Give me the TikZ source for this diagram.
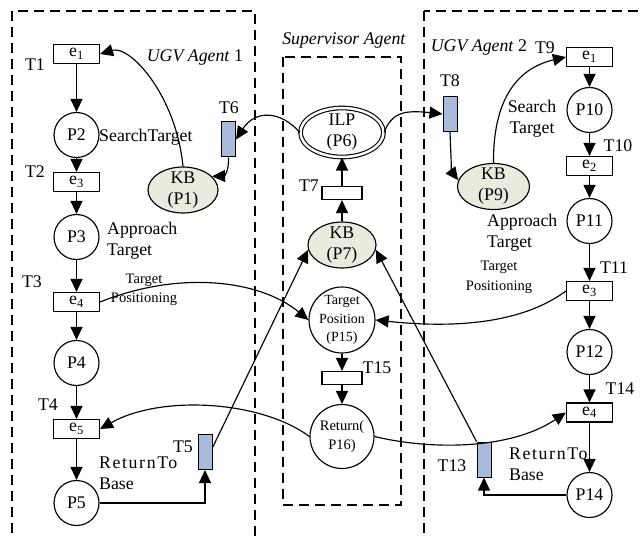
\documentclass[tikz,border=0pt]{standalone}
\usepackage{fontspec}
\setmainfont{Liberation Serif}
\usetikzlibrary{arrows.meta,shapes.geometric}
\definecolor{kbfill}{HTML}{E8ECDE}
\definecolor{barfill}{HTML}{A8BBDB}
\newcommand{\esub}[1]{e\textsubscript{#1}}
\newcommand{\spaced}[1]{{\addfontfeature{LetterSpace=9}#1}}

\tikzset{
  base/.style={font=\fontsize{17.8}{21}\selectfont},
  pplace/.style={circle, draw, line width=1.15pt, minimum size=45pt, inner sep=0pt, base},
  kbplace/.style={ellipse, draw, fill=kbfill, line width=1.15pt, minimum width=70pt,
    minimum height=46pt, inner xsep=0pt, inner ysep=-3pt, align=center, base},
  etrans/.style={rectangle, draw, line width=1.15pt, minimum width=46pt, minimum height=19pt,
    inner sep=0pt, base},
  strans/.style={rectangle, draw, line width=1.15pt, minimum width=40pt, minimum height=13pt,
    inner sep=0pt},
  bartrans/.style={rectangle, draw, fill=barfill, line width=1pt, minimum width=14pt,
    minimum height=35pt, inner sep=0pt},
  lbl/.style={base, inner sep=0pt},
  small/.style={font=\fontsize{14.5}{19.5}\selectfont, inner sep=0pt, align=center},
  flow/.style={line width=1.15pt, -{Triangle[length=13pt,width=12pt]}},
  zone/.style={dash pattern=on 10pt off 6pt, line width=1.3pt},
}

\begin{document}
\begin{tikzpicture}[x=1pt,y=-1pt]
\useasboundingbox (0,0) rectangle (644,537);

% agent frames
\begin{scope}
  \clip (0,0) rectangle (644,537);
  \draw[zone] (12,11) rectangle (255,560);
  \draw[zone] (424,11) rectangle (670,560);
  \draw[zone] (283,57) rectangle (401,505);
\end{scope}

% frame titles
\node[lbl] (title1) at (195,58) {\textit{UGV Agent} 1};
\node[lbl] (titleS) at (344,41) {\textit{Supervisor Agent}};
\node[lbl] (title2) at (479,48) {\textit{UGV Agent} 2};

% ---------------- UGV agent 1 ----------------
\node[etrans] (e1L) at (76.5,54) {\esub{1}};
\node[pplace] (P2) at (76.5,135) {P2};
\node[etrans] (e3L) at (76.5,182) {\esub{3}};
\node[pplace] (P3) at (76.5,237) {P3};
\node[etrans] (e4L) at (76.5,302) {\esub{4}};
\node[pplace] (P4) at (76.5,363) {P4};
\node[etrans] (e5L) at (76.5,429) {\esub{5}};
\node[pplace] (P5) at (76.5,503) {P5};

\node[lbl] (lT1) at (35,65) {T1};
\node[lbl] (lT2) at (35,172) {T2};
\node[lbl] (lT3) at (32,282) {T3};
\node[lbl] (lT4) at (48,405) {T4};

\node[lbl, anchor=west] (sL) at (99,137) {SearchTarget};
\node[lbl, anchor=west, align=left] (aL) at (107,240.5) {Approach\\Target};
\node[small] (tpL) at (144,290) {Target\\Positioning};
\node[lbl, anchor=west, align=left] (rL) at (99,473) {\spaced{ReturnTo}\\Base};

\node[kbplace] (P1) at (183,190) {KB\\(P1)};
\node[bartrans] (T6) at (228.5,139.5) {};
\node[lbl] (lT6) at (229,108) {T6};
\node[bartrans] (T5) at (205,452) {};
\node[lbl] (lT5) at (183,447) {T5};

% ---------------- supervisor agent ----------------
\node[ellipse, draw, double, double distance=2.5pt, line width=1.1pt, minimum width=83pt,
  minimum height=49pt, inner xsep=0pt, inner ysep=-2pt, align=center, base]
  (ILP) at (342,132.5) {ILP\\(P6)};
\node[strans] (T7) at (342,193) {};
\node[lbl] (lT7) at (309,186) {T7};
\node[kbplace, minimum width=68pt] (P7) at (342,245) {KB\\(P7)};
\node[circle, draw, line width=1.15pt, minimum size=66pt, inner sep=-1pt, align=center,
  font=\fontsize{14}{18.5}\selectfont] (P15) at (342,320) {Target\\Position\\(P15)};
\node[strans] (T15) at (342,378) {};
\node[lbl] (lT15) at (377,368) {T15};
\node[circle, draw, line width=1.15pt, minimum size=64pt, inner sep=0pt, align=center,
  font=\fontsize{14.5}{19}\selectfont] (P16) at (342,436.5) {Return(\\P16)};

% ---------------- UGV agent 2 ----------------
\node[etrans] (e1R) at (589.5,57) {\esub{1}};
\node[pplace] (P10) at (589.5,110) {P10};
\node[etrans] (e2R) at (589.5,166) {\esub{2}};
\node[pplace] (P11) at (589.5,221) {P11};
\node[etrans] (e3R) at (589.5,291) {\esub{3}};
\node[pplace] (P12) at (589.5,352) {P12};
\node[etrans] (e4R) at (589.5,412.5) {\esub{4}};
\node[pplace] (P14) at (589.5,495) {P14};

\node[lbl] (lT9) at (545,48) {T9};
\node[lbl] (lT10) at (618,146) {T10};
\node[lbl] (lT11) at (614,268) {T11};
\node[lbl] (lT14) at (620,389) {T14};

\node[lbl, align=center] (sR) at (532,119) {Search\\Target};
\node[lbl, anchor=west, align=left] (aR) at (487,232.5) {Approach\\Target};
\node[small] (tpR) at (499,277.5) {Target\\Positioning};
\node[lbl, anchor=west, align=left] (rR) at (509,464) {\spaced{ReturnTo}\\Base};

\node[kbplace, minimum width=72pt] (P9) at (493.5,186.5) {KB\\(P9)};
\node[bartrans] (T8) at (450,114) {};
\node[lbl] (lT8) at (450,81) {T8};
\node[bartrans] (T13) at (484,459.5) {};
\node[lbl] (lT13) at (452,466) {T13};

% ---------------- arcs ----------------
\foreach \a/\b in {e1L/P2, P2/e3L, e3L/P3, P3/e4L, e4L/P4, P4/e5L, e5L/P5,
                   e1R/P10, P10/e2R, e2R/P11, P11/e3R, e3R/P12, P12/e4R, e4R/P14,
                   P7/T7, T7/ILP, P15/T15, T15/P16}
  \draw[flow] (\a) -- (\b);

% knowledge bases and search transitions
\draw[flow] (P1.north) .. controls (176,95) and (130,45) .. (e1L.east);
\draw[flow] (ILP.west) .. controls (280,110) and (255,110) .. (T6.east);
\draw[flow] (T6.south) .. controls (229,172) and (224,176) .. (P1.25);
\draw[flow] (ILP.east) .. controls (392,112) and (405,110) .. (T8.west);
\draw[flow] (T8.south) .. controls (451,160) and (452,172) .. (P9.170);
\draw[flow] (P9.north) .. controls (493,110) and (510,70) .. (e1R.west);

% target positioning
\draw[flow] (e4L.east) .. controls (180,270) and (260,280) .. (P15.west);
\draw[flow] (e3R.west) .. controls (520,325) and (450,328) .. (P15.east);

% return to base
\draw[flow] (P16.west) .. controls (260,400) and (160,395) .. (e5L.east);
\draw[flow] (P16.east) .. controls (430,450) and (510,450) .. (e4R.west);
\draw[flow] (P5.east) -| (T5.south);
\draw[flow] (P14.west) -| (T13.south);
\draw[flow] (T5.30) -- (P7.188);
\draw[flow] (T13.north west) -- (P7.-8);
\end{tikzpicture}
\end{document}
